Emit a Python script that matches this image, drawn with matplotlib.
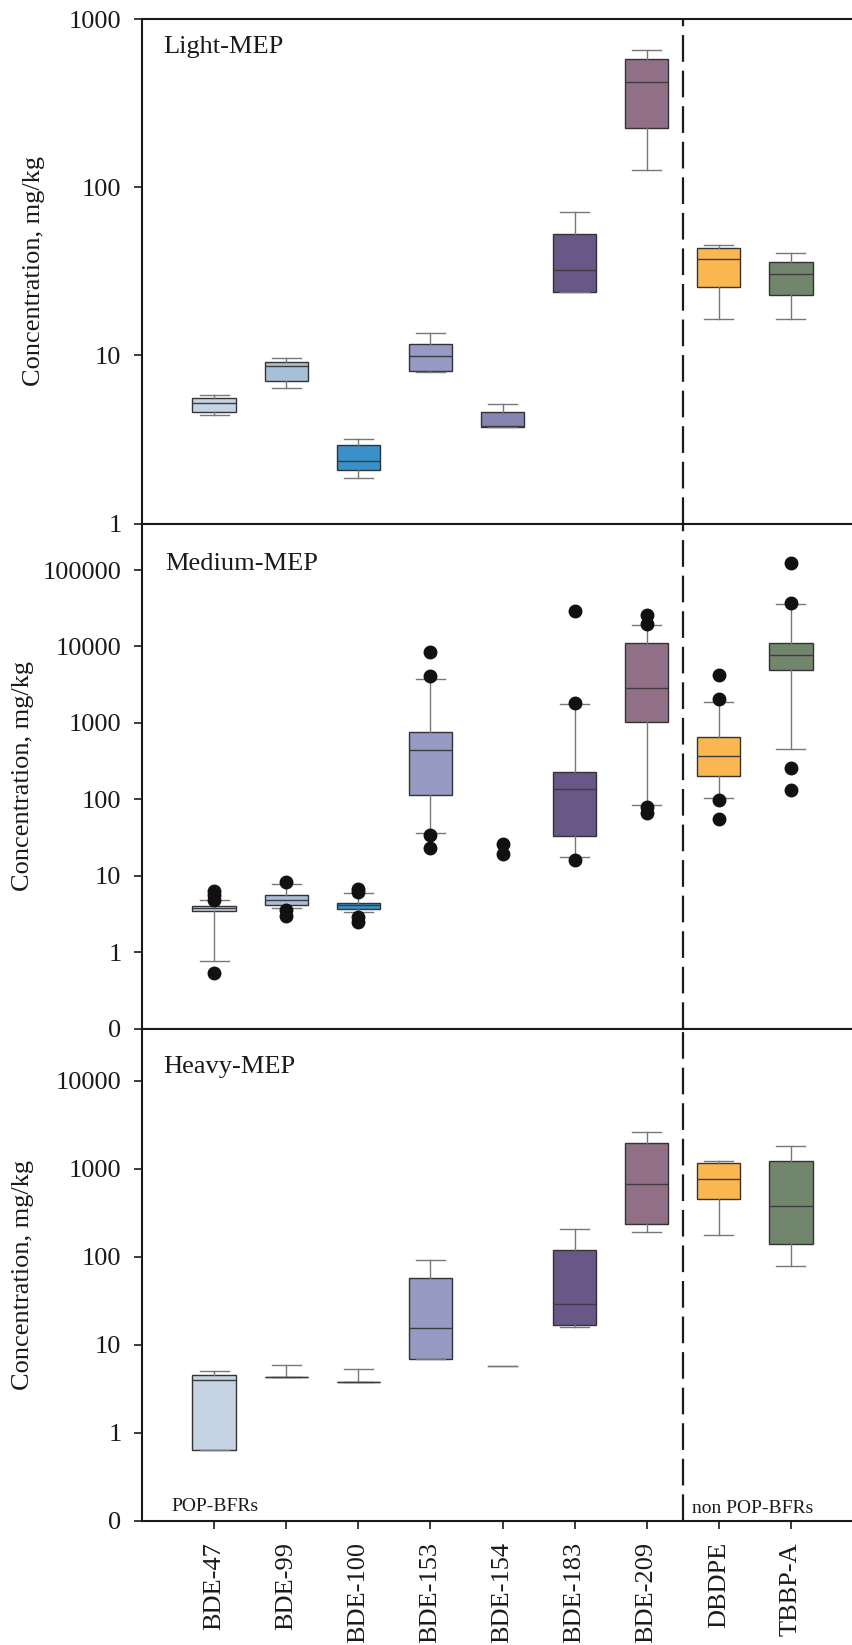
import matplotlib
matplotlib.use("Agg")
from matplotlib import pyplot as plt

plt.rcParams["font.family"] = ["Liberation Serif", "DejaVu Serif"]

categories = ["BDE-47", "BDE-99", "BDE-100", "BDE-153", "BDE-154",
              "BDE-183", "BDE-209", "DBDPE", "TBBP-A"]
box_colors = ["#c5d3e3", "#a8bfda", "#3a90c8", "#979ac2", "#8585b2",
              "#685787", "#917087", "#fab651", "#72866d"]

# Light-MEP (mg/kg)
light_whislo = [4.41, 6.38, 1.87, 7.93, 3.75, 23.8, 126, 16.4, 16.4]
light_q1 = [4.63, 7.06, 2.08, 8.12, 3.76, 23.8, 224, 25.4, 22.8]
light_med = [5.23, 8.62, 2.35, 9.86, 3.80, 32.3, 423, 37.3, 30.6]
light_q3 = [5.55, 9.16, 2.93, 11.75, 4.61, 52.5, 576, 43.6, 36.1]
light_whishi = [5.84, 9.68, 3.18, 13.6, 5.16, 71.0, 653, 45.3, 40.5]
light_fliers = [[], [], [], [], [], [], [], [], []]

# Medium-MEP (mg/kg); BDE-154 has only single points
medium_whislo = [0.76, 3.76, 3.37, 36, None, 17.8, 85, 103, 452]
medium_q1 = [3.44, 4.19, 3.68, 115, None, 33.2, 1027, 204, 4870]
medium_med = [3.76, 4.83, 4.11, 442, None, 138, 2830, 366, 7660]
medium_q3 = [4.0, 5.61, 4.45, 760, None, 228, 11000, 648, 11200]
medium_whishi = [4.79, 7.75, 5.96, 3715, None, 1766, 18900, 1890, 35600]
medium_fliers = [[6.3, 5.6, 4.8, 0.53], [8.2, 3.6, 2.95], [6.7, 6.1, 2.9, 2.5],
                 [8450, 4140, 34.2, 22.9], [25.8, 19.1], [28800, 1800, 16.1],
                 [25500, 19500, 80, 67], [4270, 2035, 98, 55.8],
                 [122000, 36600, 257, 133]]

# Heavy-MEP (mg/kg)
heavy_whislo = [0.634, 4.34, 3.81, 6.96, 5.74, 15.7, 193, 177, 79]
heavy_q1 = [0.634, 4.34, 3.81, 6.96, 5.74, 16.7, 234, 451, 138]
heavy_med = [3.94, 4.34, 3.81, 15.3, 5.74, 28.7, 678, 767, 378]
heavy_q3 = [4.53, 4.34, 3.81, 56.8, 5.74, 119, 1955, 1178, 1230]
heavy_whishi = [5.03, 5.89, 5.3, 92.5, 5.74, 207, 2630, 1230, 1808]
heavy_fliers = [[], [], [], [], [], [], [], [], []]

DARK = "#1a1a1a"
W, H = 853, 1645


def px_axes(top, bottom, left=142, right=863):
    """axes rectangle from pixel edges"""
    return [left / W, 1 - bottom / H, (right - left) / W, (bottom - top) / H]


def draw_panel(ax, lo, q1, med, q3, hi, fliers, ylim, yticks, yticklabels,
               title, title_off, label_x):
    flierprops = dict(marker="o", markerfacecolor="#111111",
                      markeredgecolor="#111111", markersize=9, linestyle="none")
    stats, pos = [], []
    for i in range(len(categories)):
        if med[i] is None:
            # only single points for this compound
            ax.plot([i] * len(fliers[i]), fliers[i], **flierprops)
            continue
        stats.append(dict(med=med[i], q1=q1[i], q3=q3[i], whislo=lo[i],
                          whishi=hi[i], fliers=fliers[i]))
        pos.append(i)

    res = ax.bxp(stats, positions=pos, widths=0.6, capwidths=0.4,
                 patch_artist=True,
                 boxprops=dict(edgecolor="#333333", linewidth=1.0),
                 medianprops=dict(color="#3d3d3d", linewidth=1.0),
                 whiskerprops=dict(color="#777777", linewidth=1.0),
                 capprops=dict(color="#777777", linewidth=1.0),
                 flierprops=flierprops)
    for k, i in enumerate(pos):
        res["boxes"][k].set_facecolor(box_colors[i])
        if lo[i] == hi[i] == q1[i] == q3[i]:
            res["boxes"][k].set_visible(False)
            res["medians"][k].set_visible(False)

    ax.axvline(6.5, color=DARK, linewidth=1.6, dashes=(12, 4))

    ax.set_yscale("log")
    ax.set_ylim(*ylim)
    ax.set_yticks(yticks)
    ax.set_yticklabels(yticklabels)
    ax.minorticks_off()
    ax.set_xlim(-1, 9)
    ax.set_xticks(range(len(categories)))

    for side in ["left", "top", "bottom"]:
        ax.spines[side].set_linewidth(1.5)
        ax.spines[side].set_color(DARK)
    ax.spines["right"].set_visible(False)
    ax.tick_params(axis="y", direction="out", length=5.8, width=1.2,
                   pad=9, labelsize=19, colors=DARK)
    ax.tick_params(axis="x", direction="out", length=5.4, width=1.2,
                   pad=10, labelsize=19, colors=DARK)

    ax.set_ylabel("Concentration, mg/kg", fontsize=19, color=DARK)
    ax.yaxis.set_label_coords(label_x, 0.5)

    ax.annotate(title, xy=(0, 1), xycoords="axes fraction",
                xytext=title_off, textcoords="offset points",
                fontsize=19, color=DARK, va="baseline")


fig = plt.figure(figsize=(W / 100, H / 100), dpi=100)
ax1 = fig.add_axes(px_axes(19, 523.5))
ax2 = fig.add_axes(px_axes(524, 1028.5))
ax3 = fig.add_axes(px_axes(1029, 1520.5))

draw_panel(ax1, light_whislo, light_q1, light_med, light_q3, light_whishi,
           light_fliers, (1, 1000), [1, 10, 100, 1000],
           ["1", "10", "100", "1000"], "Light-MEP", (15, -24.5), -0.135)
draw_panel(ax2, medium_whislo, medium_q1, medium_med, medium_q3, medium_whishi,
           medium_fliers, (0.1, 4e5), [0.1, 1, 10, 100, 1000, 10000, 100000],
           ["0", "1", "10", "100", "1000", "10000", "100000"],
           "Medium-MEP", (17, -33), -0.150)
draw_panel(ax3, heavy_whislo, heavy_q1, heavy_med, heavy_q3, heavy_whishi,
           heavy_fliers, (0.1, 39000), [0.1, 1, 10, 100, 1000, 10000],
           ["0", "1", "10", "100", "1000", "10000"],
           "Heavy-MEP", (15, -32), -0.150)

ax1.tick_params(axis="x", labelbottom=False)
ax2.tick_params(axis="x", labelbottom=False)
ax3.set_xticklabels(categories, rotation=90, va="top")

ax3.annotate("POP-BFRs", xy=(0, 0), xycoords="axes fraction",
             xytext=(21.5, 6.5), textcoords="offset points",
             fontsize=14, color=DARK, va="baseline")
ax3.annotate("non POP-BFRs", xy=(6.5, 0), xycoords=("data", "axes fraction"),
             xytext=(7, 5.5), textcoords="offset points",
             fontsize=14, color=DARK, va="baseline")

fig.savefig("out.png", dpi=100)
